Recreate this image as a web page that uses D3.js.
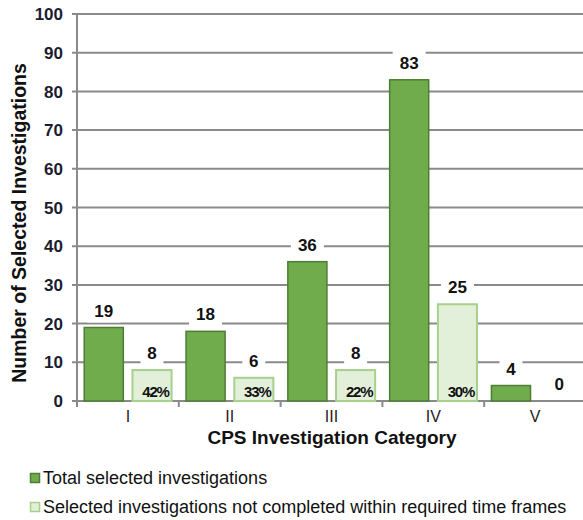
<!DOCTYPE html>
<html>
<head>
<meta charset="utf-8">
<script src="https://cdn.jsdelivr.net/npm/d3@7"></script>
<style>
  body { margin: 0; background: #fff; }
  text { font-family: "Liberation Sans", Arial, sans-serif; }
</style>
</head>
<body>
<div class="chart"></div>
<script>
// CPS investigations chart

// Data
var categories = ["I", "II", "III", "IV", "V"];
var totalSelected = [19, 18, 36, 83, 4];
var notCompleted = [8, 6, 8, 25, 0];
var percentLabels = ["42%", "33%", "22%", "30%", ""];
var yTicks = [0, 10, 20, 30, 40, 50, 60, 70, 80, 90, 100];
var seriesNames = ["Total selected investigations",
  "Selected investigations not completed within required time frames"];

var svgWidth = 583, svgHeight = 520;
var plot = { left: 77, right: 586, top: 14, bottom: 401 };

var darkFill = "#70ab4c", darkStroke = "#4e7d36";
var lightFill = "#e2efd9", lightStroke = "#a8d08d";
var gridColor = "#8a8a8a";

var svg = d3.select(".chart")
  .append("svg")
  .attr("width", svgWidth)
  .attr("height", svgHeight);

// scales
var x0 = d3.scaleBand()
  .domain(categories)
  .range([plot.left, plot.right])
  .padding(0);

var x1 = d3.scaleBand()
  .domain(["total", "late"])
  .range([0, x0.bandwidth()])
  .paddingInner(0.19)
  .paddingOuter(0.15);

var y = d3.scaleLinear()
  .domain([0, 100])
  .range([plot.bottom, plot.top]);

// gridlines
svg.append("g")
  .selectAll("line")
  .data(yTicks)
  .enter()
  .append("line")
  .attr("x1", plot.left - 5)
  .attr("x2", plot.right)
  .attr("y1", d => y(d))
  .attr("y2", d => y(d))
  .attr("stroke", gridColor)
  .attr("stroke-width", 2);

// y axis line
svg.append("line")
  .attr("x1", plot.left).attr("x2", plot.left)
  .attr("y1", plot.top).attr("y2", plot.bottom)
  .attr("stroke", gridColor)
  .attr("stroke-width", 2);

// y tick labels
svg.append("g")
  .selectAll("text")
  .data(yTicks)
  .enter()
  .append("text")
  .attr("x", plot.left - 14)
  .attr("y", d => y(d))
  .attr("dy", "0.36em")
  .attr("text-anchor", "end")
  .attr("font-size", 17)
  .attr("font-weight", "bold")
  .attr("fill", "#1c1c30")
  .text(d => d);

// x axis tick marks at category boundaries
var xTickPos = categories.map(c => x0(c)).concat([plot.right]);
svg.append("g")
  .selectAll("line")
  .data(xTickPos)
  .enter()
  .append("line")
  .attr("x1", d => d).attr("x2", d => d)
  .attr("y1", plot.bottom).attr("y2", plot.bottom + 6)
  .attr("stroke", gridColor)
  .attr("stroke-width", 2);

// bars
var groups = svg.append("g")
  .selectAll("g")
  .data(categories)
  .enter()
  .append("g")
  .attr("transform", d => `translate(${x0(d)},0)`);

groups.append("rect")
  .attr("x", x1("total"))
  .attr("y", (d, i) => y(totalSelected[i]))
  .attr("width", x1.bandwidth())
  .attr("height", (d, i) => y(0) - y(totalSelected[i]))
  .attr("fill", darkFill)
  .attr("stroke", darkStroke)
  .attr("stroke-width", 1.5);

groups.filter((d, i) => notCompleted[i] > 0)
  .append("rect")
  .attr("x", x1("late"))
  .attr("y", d => y(notCompleted[categories.indexOf(d)]))
  .attr("width", x1.bandwidth())
  .attr("height", d => y(0) - y(notCompleted[categories.indexOf(d)]))
  .attr("fill", lightFill)
  .attr("stroke", lightStroke)
  .attr("stroke-width", 2);

// value labels with white boxes
function addLabel(g, cx, value) {
  var cy = y(value) - 17;
  var txt = String(value);
  var w = txt.length * 10 + 13;
  g.append("rect")
    .attr("x", cx - w / 2)
    .attr("y", cy - 12)
    .attr("width", w)
    .attr("height", 24)
    .attr("fill", "#fff");
  g.append("text")
    .attr("x", cx)
    .attr("y", cy)
    .attr("dy", "0.36em")
    .attr("text-anchor", "middle")
    .attr("font-size", 17)
    .attr("font-weight", "bold")
    .attr("fill", "#111")
    .text(txt);
}

groups.each(function(d, i) {
  var g = d3.select(this);
  addLabel(g, x1("total") + x1.bandwidth() / 2, totalSelected[i]);
  addLabel(g, x1("late") + x1.bandwidth() / 2, notCompleted[i]);
});

// percentages inside light bars
groups.append("text")
  .attr("x", x1("late") + x1.bandwidth() / 2 + 3.5)
  .attr("y", plot.bottom - 9)
  .attr("dy", "0.36em")
  .attr("text-anchor", "middle")
  .attr("font-size", 15)
  .attr("font-weight", "bold")
  .attr("letter-spacing", "-1.2")
  .attr("fill", "#111")
  .text((d, i) => percentLabels[i]);

// category labels
svg.append("g")
  .selectAll("text")
  .data(categories)
  .enter()
  .append("text")
  .attr("x", d => x0(d) + x0.bandwidth() / 2)
  .attr("y", 416)
  .attr("dy", "0.36em")
  .attr("text-anchor", "middle")
  .attr("font-size", 16)
  .attr("fill", "#222")
  .text(d => d);

// axis titles
svg.append("text")
  .attr("x", 332)
  .attr("y", 437)
  .attr("dy", "0.36em")
  .attr("text-anchor", "middle")
  .attr("font-size", 19)
  .attr("font-weight", "bold")
  .attr("fill", "#111")
  .text("CPS Investigation Category");

svg.append("text")
  .attr("transform", "translate(19,223) rotate(-90)")
  .attr("dy", "0.36em")
  .attr("text-anchor", "middle")
  .attr("font-size", 19.5)
  .attr("font-weight", "bold")
  .attr("fill", "#111")
  .text("Number of Selected Investigations");

// legend
var legend = svg.append("g")
  .selectAll("g")
  .data(seriesNames)
  .enter()
  .append("g")
  .attr("transform", (d, i) => `translate(30,${478 + i * 29})`);

legend.append("rect")
  .attr("x", 0.5).attr("y", -4.5)
  .attr("width", 9).attr("height", 9)
  .attr("fill", (d, i) => i === 0 ? darkFill : lightFill)
  .attr("stroke", (d, i) => i === 0 ? darkStroke : lightStroke)
  .attr("stroke-width", 1.5);

legend.append("text")
  .attr("x", 13)
  .attr("y", 0)
  .attr("dy", "0.36em")
  .attr("font-size", 18)
  .attr("fill", "#111")
  .text(d => d);
</script>
</body>
</html>
